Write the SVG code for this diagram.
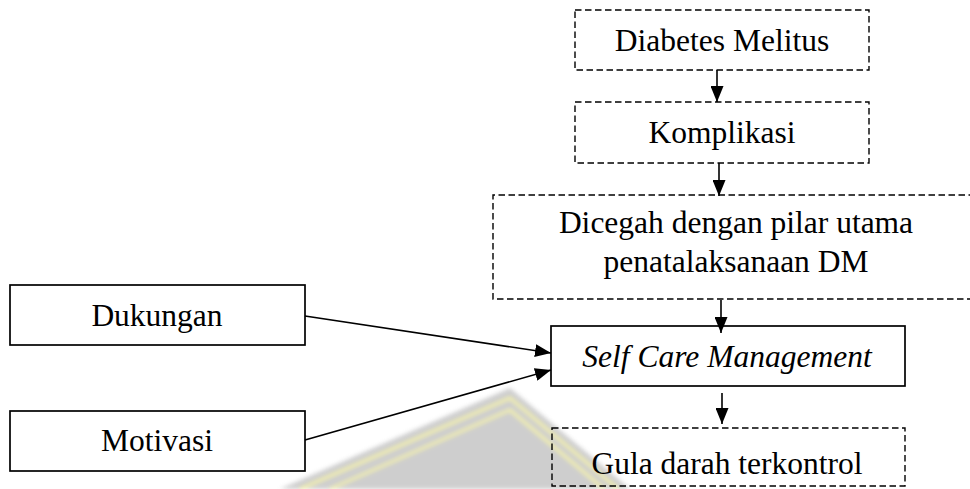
<svg xmlns="http://www.w3.org/2000/svg" width="970" height="489" viewBox="0 0 970 489">
<style>
.t{font-family:"Liberation Serif","Times New Roman",serif;font-size:31.5px;fill:#000;text-anchor:middle}
.it{font-style:italic}
.dash{fill:none;stroke:#000;stroke-width:1.4;stroke-dasharray:6.5 3.5}
.solid{fill:none;stroke:#000;stroke-width:1.7}
.conn{fill:none;stroke:#000;stroke-width:1.6}
</style>
<defs>
<marker id="ah" markerUnits="userSpaceOnUse" markerWidth="16" markerHeight="13" refX="16" refY="6.5" orient="auto">
<path d="M0,0 L16,6.5 L0,13 z" fill="#000"/>
</marker>
<filter id="blur"><feGaussianBlur stdDeviation="2"/></filter>
</defs>
<rect width="970" height="489" fill="#fff"/>
<g id="watermark" filter="url(#blur)" opacity="0.9">
<path d="M510,388 L280,489 L630,489 Z" fill="#c9c9c9"/>
<path d="M300,489 L510,398 L618,489" fill="none" stroke="#f3f0a0" stroke-width="3"/>
<path d="M330,489 L510,410 L604,489" fill="none" stroke="#f3f0a0" stroke-width="3"/>
</g>
<g id="diabetes">
<rect class="dash" x="575" y="10" width="294" height="60"/>
<text class="t" x="722" y="51">Diabetes Melitus</text>
</g>
<g id="komplikasi">
<rect class="dash" x="575" y="102" width="294" height="61"/>
<text class="t" x="722" y="143">Komplikasi</text>
</g>
<g id="dicegah">
<path class="dash" d="M975,195 L493,195 L493,299 L975,299"/>
<text class="t" x="736" y="233">Dicegah dengan pilar utama</text>
<text class="t" x="736" y="272">penatalaksanaan DM</text>
</g>
<g id="selfcare">
<rect class="solid" x="551" y="326" width="354" height="60" fill="#fff"/>
<text class="t it" x="727" y="367">Self Care Management</text>
</g>
<g id="gula">
<rect class="dash" x="552" y="428" width="353" height="58"/>
<text class="t" x="727" y="474">Gula darah terkontrol</text>
</g>
<g id="dukungan">
<rect class="solid" x="10" y="285" width="295" height="60" fill="#fff"/>
<text class="t" x="157" y="326">Dukungan</text>
</g>
<g id="motivasi">
<rect class="solid" x="10" y="411" width="295" height="60" fill="#fff"/>
<text class="t" x="157" y="451">Motivasi</text>
</g>
<g id="connectors">
<line class="conn" x1="717" y1="70" x2="717" y2="102" marker-end="url(#ah)"/>
<line class="conn" x1="719" y1="163" x2="719" y2="196" marker-end="url(#ah)"/>
<line class="conn" x1="721" y1="300" x2="721" y2="333" marker-end="url(#ah)"/>
<line class="conn" x1="722" y1="393" x2="722" y2="424" marker-end="url(#ah)"/>
<line class="conn" x1="305" y1="316" x2="551" y2="353" marker-end="url(#ah)"/>
<line class="conn" x1="305" y1="440" x2="551" y2="370" marker-end="url(#ah)"/>
</g>
</svg>
